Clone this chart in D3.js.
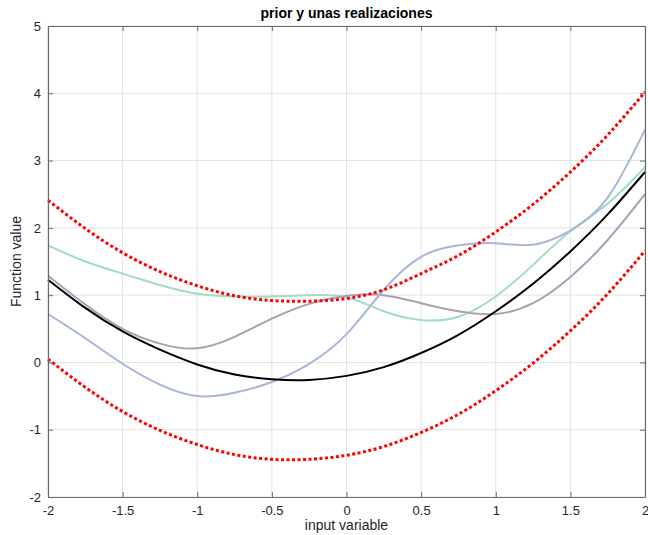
<!DOCTYPE html>
<html>
<head>
<meta charset="utf-8">
<script src="https://cdn.jsdelivr.net/npm/d3@7"></script>
<style>
  body { margin: 0; background: #fff; }
  svg { display: block; font-family: "Liberation Sans", Arial, Helvetica, sans-serif; }
</style>
</head>
<body>
<svg id="chart" width="648" height="535"></svg>
<script>
// Input grid shared by every curve
const xs = [-2, -1.75, -1.5, -1.25, -1, -0.75, -0.5, -0.25, 0, 0.25, 0.5, 0.75, 1, 1.25, 1.5, 1.75, 2];

// Prior mean and the ±2σ envelope
const priorMean = [1.23, 0.81, 0.46, 0.19, -0.03, -0.18, -0.25, -0.26, -0.2, -0.07, 0.14, 0.41, 0.76, 1.17, 1.65, 2.2, 2.83];
const upperBand = [2.41, 1.99, 1.63, 1.35, 1.14, 0.99, 0.92, 0.91, 0.95, 1.08, 1.32, 1.59, 1.94, 2.35, 2.83, 3.38, 4.02];
const lowerBand = [0.05, -0.37, -0.73, -1.01, -1.22, -1.37, -1.44, -1.44, -1.38, -1.25, -1.04, -0.77, -0.42, -0.01, 0.47, 1.02, 1.66];

// Sampled realizations
const sampleTeal  = [1.74, 1.5, 1.32, 1.15, 1.02, 0.98, 0.98, 1.0, 0.97, 0.76, 0.63, 0.68, 0.98, 1.45, 1.95, 2.36, 2.9];
const sampleMauve = [1.29, 0.86, 0.5, 0.28, 0.21, 0.38, 0.65, 0.87, 0.99, 1.0, 0.88, 0.76, 0.72, 0.88, 1.27, 1.82, 2.5];
const sampleBlue  = [0.72, 0.36, -0.02, -0.33, -0.5, -0.45, -0.29, -0.02, 0.42, 1.08, 1.57, 1.74, 1.77, 1.75, 1.96, 2.45, 3.46];

const xTicks = [-2, -1.5, -1, -0.5, 0, 0.5, 1, 1.5, 2];
const yTicks = [-2, -1, 0, 1, 2, 3, 4, 5];

const svg = d3.select("#chart");
const plotL = 48, plotR = 645, plotT = 26, plotB = 497;

const x = d3.scaleLinear().domain([-2, 2]).range([plotL, plotR]);
const y = d3.scaleLinear().domain([-2, 5]).range([plotB, plotT]);

// grid
const grid = svg.append("g").attr("stroke", "#e3e3e3").attr("stroke-width", 1);
xTicks.forEach(t => grid.append("line")
  .attr("x1", x(t)).attr("x2", x(t)).attr("y1", plotT).attr("y2", plotB));
yTicks.forEach(t => grid.append("line")
  .attr("x1", plotL).attr("x2", plotR).attr("y1", y(t)).attr("y2", y(t)));

const plot = svg.append("g");
const line = ys => d3.line()
  .x((d, i) => x(xs[i]))
  .y(d => y(d))
  .curve(d3.curveNatural)(ys);

const samples = [
  { v: sampleTeal, c: "#a0dcc6" },
  { v: sampleMauve, c: "#ab9fb5" },
  { v: sampleBlue, c: "#a7b5d9" }
];
samples.forEach(s => plot.append("path")
  .attr("d", line(s.v)).attr("fill", "none")
  .attr("stroke", s.c).attr("stroke-width", 2));

plot.append("path").attr("d", line(priorMean)).attr("fill", "none")
  .attr("stroke", "#000").attr("stroke-width", 2);

[upperBand, lowerBand].forEach(b => plot.append("path")
  .attr("d", line(b)).attr("fill", "none")
  .attr("stroke", "#ff0000").attr("stroke-width", 3)
  .attr("stroke-dasharray", "3,2.5"));

// axes with inward ticks on all four sides
const axisColor = "#262626";
const fmt = d => String(d);
const xb = svg.append("g").attr("transform", `translate(0,${plotB})`)
  .call(d3.axisBottom(x).tickValues(xTicks).tickSizeInner(-5).tickSizeOuter(0).tickPadding(9).tickFormat(fmt));
const xt = svg.append("g").attr("transform", `translate(0,${plotT})`)
  .call(d3.axisTop(x).tickValues(xTicks).tickSizeInner(-5).tickSizeOuter(0).tickFormat(""));
const yl = svg.append("g").attr("transform", `translate(${plotL},0)`)
  .call(d3.axisLeft(y).tickValues(yTicks).tickSizeInner(-5).tickSizeOuter(0).tickPadding(7).tickFormat(fmt));
const yr = svg.append("g").attr("transform", `translate(${plotR},0)`)
  .call(d3.axisRight(y).tickValues(yTicks).tickSizeInner(-5).tickSizeOuter(0).tickFormat(""));

[xb, xt, yl, yr].forEach(g => {
  g.selectAll("path").attr("stroke", "#6b6b6b").attr("stroke-width", 1.2);
  g.selectAll("line").attr("stroke", "#6b6b6b");
  g.selectAll("text").attr("fill", axisColor).attr("font-size", 13)
    .attr("font-family", "Liberation Sans, Arial, sans-serif");
});

// labels
svg.append("text").attr("x", (plotL + plotR) / 2).attr("y", 18)
  .attr("text-anchor", "middle").attr("font-weight", "bold").attr("font-size", 14)
  .attr("fill", "#000").text("prior y unas realizaciones");

svg.append("text").attr("x", (plotL + plotR) / 2).attr("y", 530)
  .attr("text-anchor", "middle").attr("font-size", 14)
  .attr("fill", axisColor).text("input variable");

svg.append("text")
  .attr("transform", `translate(21,${(plotT + plotB) / 2}) rotate(-90)`)
  .attr("text-anchor", "middle").attr("font-size", 14)
  .attr("fill", axisColor).text("Function value");
</script>
</body>
</html>
